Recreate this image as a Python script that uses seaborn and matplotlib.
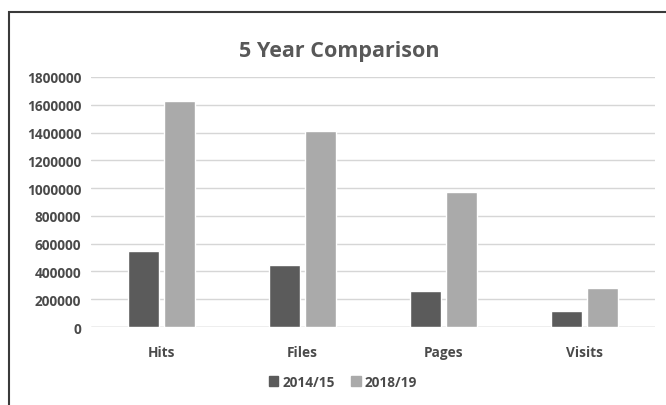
import pandas as pd
import seaborn as sns
import matplotlib.pyplot as plt
from matplotlib.patches import Rectangle

# Werte
categories = ["Hits", "Files", "Pages", "Visits"]
years = ["2014/15", "2018/19"]
values_2014 = [545000, 448000, 257000, 113000]
values_2018 = [1630000, 1413000, 974000, 283000]
y_ticks = [0, 200000, 400000, 600000, 800000, 1000000, 1200000, 1400000, 1600000, 1800000]

df = pd.DataFrame({
    "category": categories * 2,
    "year": [years[0]] * 4 + [years[1]] * 4,
    "value": values_2014 + values_2018,
})

sns.set_style("white")
plt.rcParams['font.family'] = ['Open Sans', 'DejaVu Sans']

fig = plt.figure(figsize=(6.66, 4.06), dpi=100)
ax = fig.add_axes([0.1366, 0.1921, 0.8469, 0.6158])

sns.barplot(data=df, x="category", y="value", hue="year", order=categories,
            hue_order=years, palette=["#5b5b5b", "#aaaaaa"], width=0.5, gap=0.12,
            saturation=1, ax=ax, legend=False)

ax.set_ylim(0, 1800000)
ax.set_yticks(y_ticks)
ax.set_yticklabels([str(t) for t in y_ticks])
ax.yaxis.grid(True, color="#d6d6d6", linewidth=1)
ax.set_axisbelow(True)
for s in ax.spines.values():
    s.set_visible(False)
ax.axhline(0, color="#cfcfcf", linewidth=1, zorder=0)
ax.tick_params(axis="both", length=0, labelsize=9.8, labelcolor="#4a4a4a", pad=7)
for lbl in ax.get_xticklabels() + ax.get_yticklabels():
    lbl.set_fontweight("bold")
ax.tick_params(axis="x", pad=13)
ax.set_xlabel("")
ax.set_ylabel("")

fig.text(0.509, 0.874, "5 Year Comparison", ha="center", va="center",
         fontsize=15.5, fontweight="bold", color="#585858")

handles = [Rectangle((0, 0), 1, 1, color="#5b5b5b"), Rectangle((0, 0), 1, 1, color="#aaaaaa")]
leg = fig.legend(handles, years, loc="center", bbox_to_anchor=(0.515, 0.057), ncol=2,
                 frameon=False, handlelength=0.7, handleheight=0.7, handletextpad=0.3,
                 columnspacing=1.2, prop={"weight": "bold", "size": 9.8})
for t in leg.get_texts():
    t.set_color("#4a4a4a")

# Rahmen um das Diagramm
fig.patches.append(Rectangle((9 / 666, -0.1), 1.2, 1 - 13 / 406 + 0.1, transform=fig.transFigure,
                             fill=False, edgecolor="#3a3a3a", linewidth=1.5))

fig.savefig("out.png", dpi=100)
